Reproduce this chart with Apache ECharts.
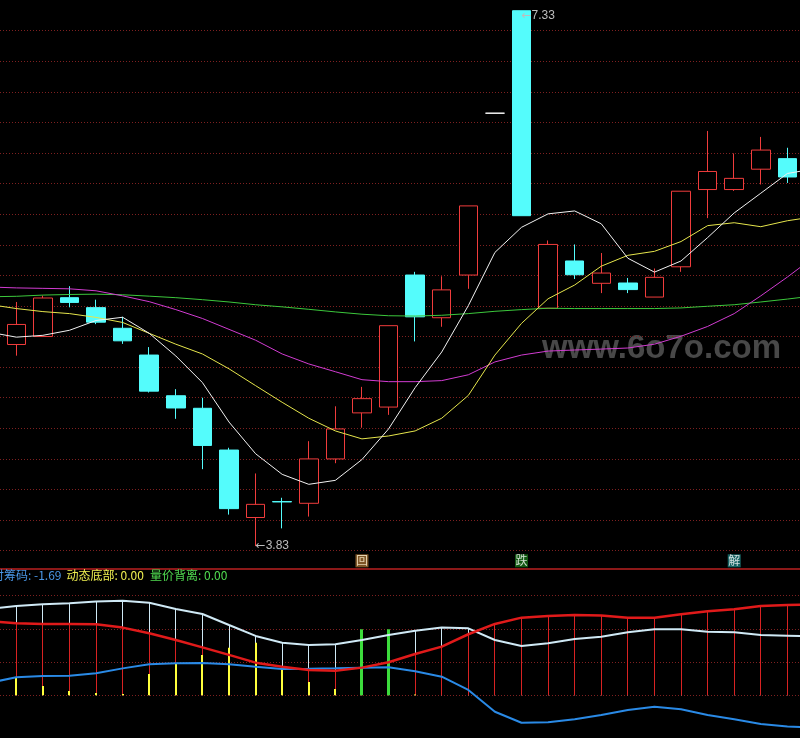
<!DOCTYPE html>
<html><head><meta charset="utf-8">
<script src="https://cdn.jsdelivr.net/npm/echarts@6/dist/echarts.min.js"></script>
<style>html,body{margin:0;padding:0;background:#000;overflow:hidden}#c{width:800px;height:738px}</style>
</head><body><div id="c"></div>
<script>
// day positions: -1 and 30 are the partly visible days at the edges, 0..29 the visible trading days
const dayFirst = -1;
const viewMin = -0.613, viewMax = 29.474;

// candles for the 30 visible days (0..29)
const candleOpen  = [5.148,5.200,5.454,5.389,5.254,5.079,4.813,4.731,4.458,4.017,4.121,4.110,4.400,4.701,4.739,5.602,5.323,5.602,6.66,7.33,5.385,5.694,5.548,5.550,5.458,5.656,6.161,6.161,6.294,6.363];
const candleClose = [5.279,5.452,5.423,5.294,5.172,4.843,4.733,4.488,4.075,4.103,4.119,4.400,4.596,4.794,5.271,5.329,5.505,6.054,6.66,5.99,5.802,5.604,5.615,5.507,5.587,6.150,6.279,6.234,6.419,6.243];
const candleLow   = [5.075,5.200,5.391,5.281,5.152,4.834,4.662,4.333,4.036,3.83,3.946,4.023,4.372,4.604,4.688,5.168,5.264,5.512,6.66,5.99,5.385,5.576,5.484,5.484,5.458,5.623,5.974,6.152,6.194,6.204];
const candleHigh  = [5.426,5.468,5.529,5.441,5.329,5.131,4.856,4.800,4.473,4.305,4.146,4.516,4.744,4.871,5.271,5.623,5.594,6.054,6.66,7.33,5.828,5.802,5.746,5.583,5.645,6.150,6.544,6.397,6.505,6.434];
const flatDay = 18; // one-price day drawn in white

// moving averages for days -1..30
const ma5  = [5.228,5.196,5.208,5.241,5.305,5.326,5.221,5.073,4.899,4.641,4.434,4.299,4.234,4.260,4.396,4.596,4.866,5.099,5.402,5.750,5.914,6.002,6.021,5.937,5.712,5.621,5.694,5.847,6.008,6.137,6.266,6.296];
const ma10 = [5.409,5.383,5.363,5.350,5.325,5.292,5.221,5.150,5.086,4.989,4.879,4.770,4.666,4.583,4.531,4.550,4.583,4.666,4.815,5.079,5.286,5.447,5.537,5.660,5.731,5.757,5.821,5.925,5.944,5.918,5.957,5.983];
const ma20 = [5.524,5.518,5.515,5.512,5.499,5.466,5.428,5.376,5.318,5.247,5.176,5.086,5.021,4.970,4.918,4.905,4.905,4.912,4.950,5.034,5.079,5.105,5.112,5.118,5.125,5.150,5.202,5.266,5.350,5.466,5.589,5.720];
const ma60 = [5.460,5.463,5.471,5.475,5.477,5.473,5.464,5.454,5.441,5.426,5.408,5.394,5.378,5.361,5.346,5.336,5.334,5.339,5.350,5.365,5.376,5.385,5.383,5.383,5.383,5.383,5.387,5.398,5.408,5.426,5.445,5.466];

// price-axis ticks
const priceMin = 3.6, priceMax = 7.4, priceStep = 0.2;

// annotations
const highText = '7.33', highDay = 19, highValue = 7.33;
const lowText = '3.83', lowDay = 9, lowValue = 3.83;
const signalDays = [13, 19, 27];
const signalTexts = ['回', '跌', '解'];
const signalLevel = 3.734;

// lower indicator for days -1..30
const lightLine = [4.69,4.84,4.93,4.99,5.08,5.13,5.02,4.68,4.41,3.81,3.22,2.85,2.73,2.77,3.00,3.27,3.50,3.67,3.63,3.00,2.67,2.82,3.05,3.18,3.42,3.58,3.58,3.45,3.42,3.27,3.23,3.19];
const redLine   = [4.02,3.90,3.87,3.87,3.85,3.67,3.36,3.00,2.60,2.19,1.77,1.55,1.37,1.33,1.50,1.79,2.24,2.64,3.31,3.87,4.21,4.30,4.35,4.32,4.21,4.21,4.39,4.56,4.66,4.84,4.90,4.93];
const blueLine  = [0.68,0.98,1.05,1.06,1.19,1.46,1.68,1.74,1.75,1.68,1.55,1.43,1.44,1.46,1.50,1.52,1.30,1.01,0.29,-0.89,-1.49,-1.46,-1.30,-1.07,-0.80,-0.62,-0.76,-1.07,-1.30,-1.56,-1.69,-1.74];
// sticks for the 30 visible days
const yellowSticks = [0.95,0.50,0.23,0.12,0.07,1.16,1.75,2.19,2.58,2.85,1.41,0.72,0.34,0,0,0.05,0,0,0,0,0,0,0,0,0,0,0,0,0,0];
const greenSticks  = [0,0,0,0,0,0,0,0,0,0,0,0,0,3.58,3.58,0,0,0,0,0,0,0,0,0,0,0,0,0,0,0];
const lowerMin = -1.8, lowerMax = 7.2, lowerStep = 1.8;
const legendItems = [
  {text: '即时筹码: -1.69', color: '#4a96e6'},
  {text: '动态底部: 0.00', color: '#f0f050'},
  {text: '量价背离: 0.00', color: '#50dc50'}
];

const RED = '#f03c3c', CYAN = '#54fcfc';

const candleData = candleOpen.map((o, i) => {
  const v = [i, o, candleClose[i], candleLow[i], candleHigh[i]];
  if (i === flatDay) return {value: v, itemStyle: {color: '#ffffff', color0: '#ffffff', borderColor: '#ffffff', borderColor0: '#ffffff', borderColorDoji: '#ffffff'}};
  return v;
});
const withDays = arr => arr.map((v, k) => [k + dayFirst, v]);

function stickSeries(name, values, color, width, z) {
  return {
    name, type: 'custom', xAxisIndex: 1, yAxisIndex: 1, z, silent: true,
    data: values.map((v, i) => [i, v]),
    renderItem: function (params, api) {
      const v = api.value(1);
      if (!v) return null;
      const top = api.coord([api.value(0), v]);
      const base = api.coord([api.value(0), 0]);
      const x = (width % 2 === 1) ? Math.floor(top[0]) + 0.5 : Math.round(top[0]);
      return {type: 'line', shape: {x1: x, y1: top[1], x2: x, y2: base[1]}, style: {stroke: color, lineWidth: width}};
    }
  };
}

const splitStyle = {show: true, showMinLine: false, showMaxLine: false, lineStyle: {color: '#7e2020', type: [1, 2], width: 1}};
const hiddenX = {type: 'value', min: viewMin, max: viewMax, axisLine: {show: false}, axisTick: {show: false}, axisLabel: {show: false}, splitLine: {show: false}};

function maSeries(name, data, color) {
  return {name, type: 'line', data: withDays(data), symbol: 'none', smooth: false, z: 4, lineStyle: {color, width: 1}, silent: true, clip: false};
}

const extremeRich = {
  a: {fontFamily: 'DejaVu Sans', fontSize: 12, color: '#bdbdbd'},
  n: {fontFamily: 'Liberation Sans', fontSize: 12, color: '#bdbdbd'}
};

const chart = echarts.init(document.getElementById('c'), null, {renderer: 'canvas'});
chart.setOption({
  animation: false,
  backgroundColor: '#000',
  grid: [
    {left: 0, right: 0, top: -7.7, height: 589},
    {left: 0, right: 0, top: 562.5, height: 166}
  ],
  xAxis: [Object.assign({gridIndex: 0}, hiddenX), Object.assign({gridIndex: 1}, hiddenX)],
  yAxis: [
    {gridIndex: 0, type: 'value', min: priceMin, max: priceMax, interval: priceStep, axisLine: {show: false}, axisTick: {show: false}, axisLabel: {show: false}, splitLine: splitStyle},
    {gridIndex: 1, type: 'value', min: lowerMin, max: lowerMax, interval: lowerStep, axisLine: {show: false}, axisTick: {show: false}, axisLabel: {show: false}, splitLine: splitStyle}
  ],
  series: [
    {
      name: 'K', type: 'candlestick', data: candleData, barWidth: 19, z: 3,
      encode: {x: 0, y: [1, 2, 3, 4]},
      itemStyle: {color: '#000000', color0: CYAN, borderColor: RED, borderColor0: CYAN, borderColorDoji: CYAN, borderWidth: 1},
      silent: true,
      markPoint: {
        symbol: 'circle', symbolSize: 0, silent: true, z: 8,
        label: {show: true, position: 'right', distance: 0, rich: extremeRich},
        data: [
          {coord: [highDay, highValue], label: {formatter: '{a|←}{n|' + highText + '}', offset: [0, 5]}},
          {coord: [lowDay, lowValue], label: {formatter: '{a|←}{n|' + lowText + '}'}}
        ]
      }
    },
    maSeries('MA60', ma60, '#3cc83c'),
    maSeries('MA20', ma20, '#d23cd2'),
    maSeries('MA10', ma10, '#e6e64c'),
    maSeries('MA5', ma5, '#f2f2f2'),
    {
      name: 'signals', type: 'scatter', symbolSize: 0, z: 6, silent: true,
      data: signalDays.map((d, j) => ({
        value: [d, signalLevel],
        label: {
          show: true, position: 'inside', formatter: signalTexts[j],
          fontSize: 12, fontFamily: 'Noto Sans CJK SC', lineHeight: 13, width: 13, height: 13, align: 'center',
          padding: [0, 0], color: j === 0 ? '#fff1d2' : '#ffffff',
          backgroundColor: j === 0 ? '#9c6a30' : (j === 1 ? '#176e17' : '#1c7a7a')
        }
      }))
    },
    stickSeries('lightSticks', lightLine.slice(1, 31), '#cfe9f5', 1, 2),
    stickSeries('redSticks', redLine.slice(1, 31), '#d82222', 1, 3),
    stickSeries('yellowSticks', yellowSticks, '#ffff3c', 2, 4),
    stickSeries('greenSticks', greenSticks, '#3cdc3c', 3, 4),
    {name: 'light', type: 'line', xAxisIndex: 1, yAxisIndex: 1, data: withDays(lightLine), symbol: 'none', z: 5, clip: false, silent: true, lineStyle: {color: '#cfe9f5', width: 2}},
    {name: 'blue', type: 'line', xAxisIndex: 1, yAxisIndex: 1, data: withDays(blueLine), symbol: 'none', z: 5, clip: false, silent: true, lineStyle: {color: '#2a8ae6', width: 2}},
    {name: 'red', type: 'line', xAxisIndex: 1, yAxisIndex: 1, data: withDays(redLine), symbol: 'none', z: 6, clip: false, silent: true, lineStyle: {color: '#e01a1a', width: 2.5}}
  ],
  graphic: [
    {type: 'text', z: 0, left: 542, top: 332, silent: true,
      style: {text: 'www.6o7o.com', fill: 'rgba(120,120,120,0.6)', font: 'bold 33px "Liberation Sans", Arial, sans-serif'}},
    {type: 'line', z: 10, silent: true, shape: {x1: 0, y1: 569, x2: 800, y2: 569}, style: {stroke: '#8c1818', lineWidth: 2}},
    {type: 'text', z: 10, x: -20, y: 575, silent: true, style: {text: legendItems[0].text, fill: legendItems[0].color, font: '12px "Noto Sans CJK SC"', textVerticalAlign: 'middle'}},
    {type: 'text', z: 10, x: 66.5, y: 575, silent: true, style: {text: legendItems[1].text, fill: legendItems[1].color, font: '12px "Noto Sans CJK SC"', textVerticalAlign: 'middle'}},
    {type: 'text', z: 10, x: 150, y: 575, silent: true, style: {text: legendItems[2].text, fill: legendItems[2].color, font: '12px "Noto Sans CJK SC"', textVerticalAlign: 'middle'}}
  ]
});
</script></body></html>
